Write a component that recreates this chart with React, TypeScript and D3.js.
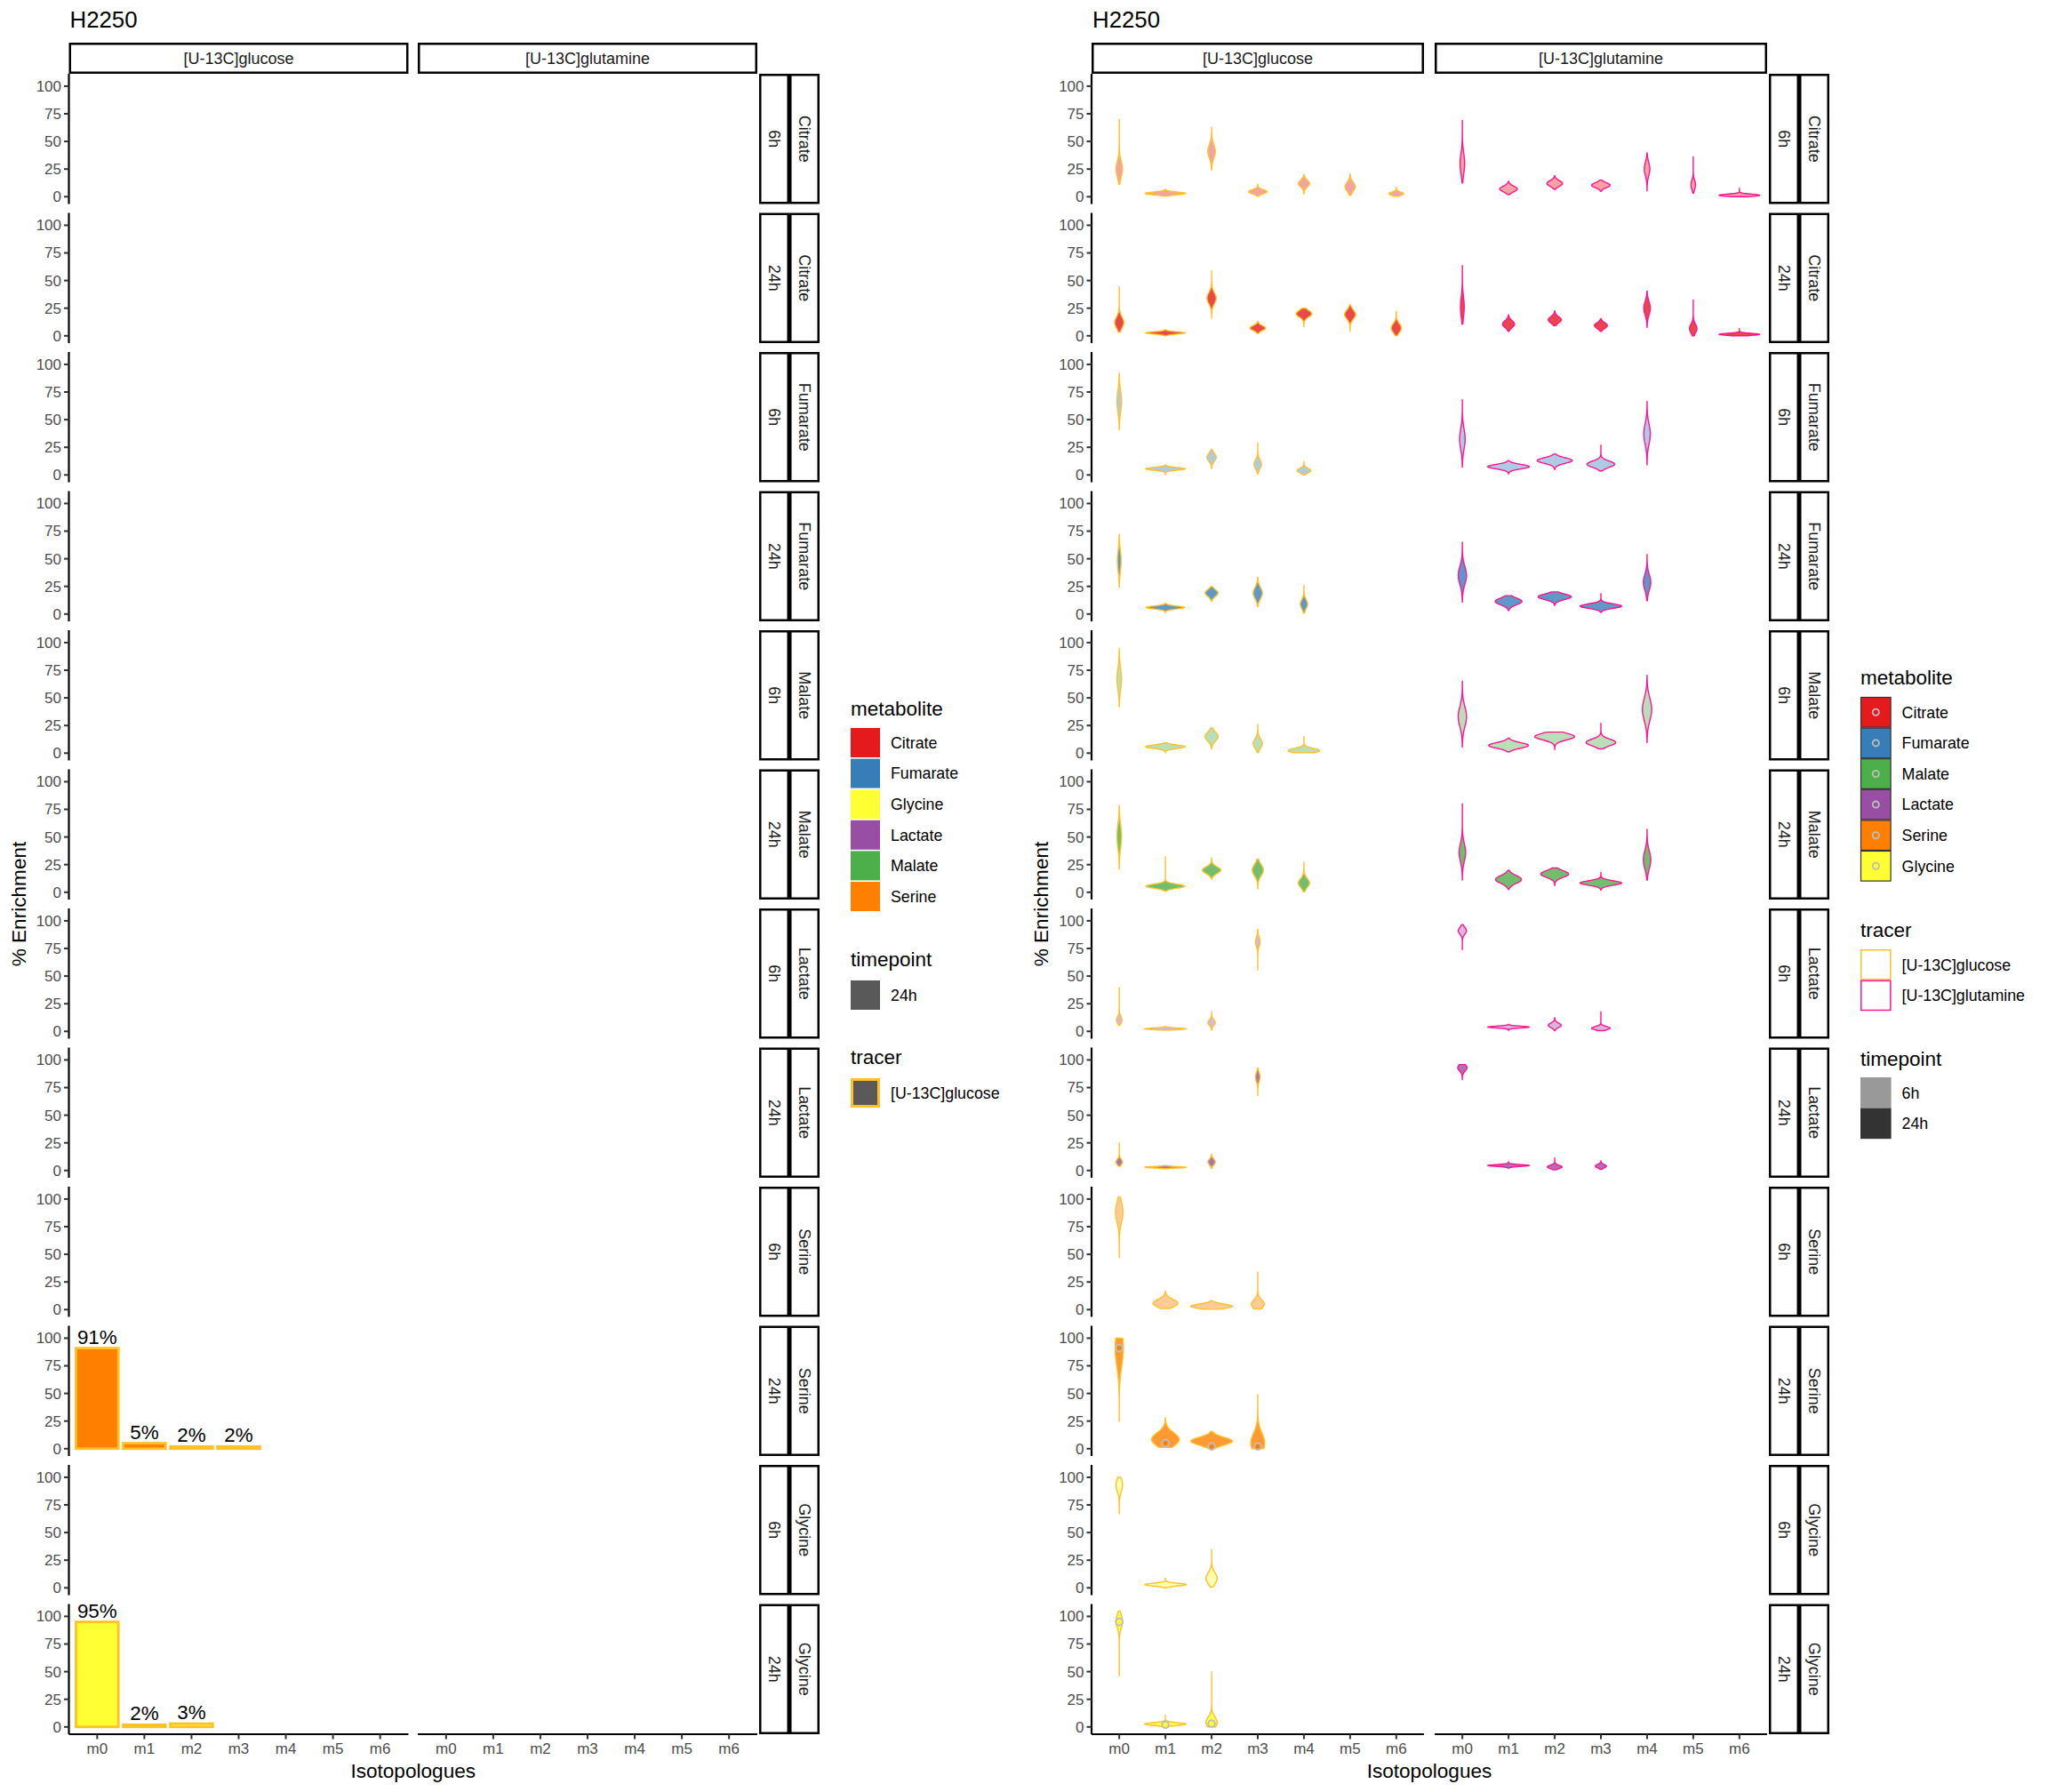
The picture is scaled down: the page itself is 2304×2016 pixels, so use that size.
import React from "react";
import * as d3 from "d3";

// [min, mode, max, half width as share of the category step, spread]
type Violin = [number, number, number, number, number];

const isotopologues = ["m0", "m1", "m2", "m3", "m4", "m5", "m6"];
const tracers = ["[U-13C]glucose", "[U-13C]glutamine"];
const metabolites = ["Citrate", "Fumarate", "Malate", "Lactate", "Serine", "Glycine"];
const timepoints = ["6h", "24h"];
const yTicks = [0, 25, 50, 75, 100];

// left chart: mean enrichment, 24h [U-13C]glucose
const serine24hGlc = [91, 5, 2, 2];
const glycine24hGlc = [95, 2, 3];

// right chart: violins per isotopologue (m0, m1, ...)
const citrate6hGlc: Violin[] = [
  [11.2, 25, 70, 0.07, 7], [0.8, 3, 6.7, 0.44, 1.2], [24, 41, 62.7, 0.08, 6],
  [0.3, 4.5, 11.5, 0.2, 1.8], [2.4, 12, 20, 0.12, 3], [1.3, 9, 20.5, 0.11, 4], [0.3, 2.7, 8.5, 0.16, 1.5],
];
const citrate6hGln: Violin[] = [
  [12.5, 30, 69, 0.05, 9], [2, 7, 14, 0.19, 2.5], [6.7, 12, 19, 0.17, 2.5],
  [4.8, 10.4, 15, 0.2, 2.2], [5.3, 25, 39.7, 0.06, 6], [3.2, 10.7, 36, 0.05, 4], [0, 1.3, 7.7, 0.44, 1],
];
const citrate24hGlc: Violin[] = [
  [3.2, 12, 44.2, 0.1, 5], [0, 2.6, 5.8, 0.43, 1], [15.9, 34, 58.7, 0.1, 5],
  [2, 7, 13.2, 0.17, 2.2], [8, 20, 25, 0.17, 3], [4, 19.3, 28, 0.12, 4], [0, 7, 22, 0.11, 4],
];
const citrate24hGln: Violin[] = [
  [10.6, 26, 63.5, 0.04, 9], [4, 10.6, 19, 0.13, 3], [9.3, 14.5, 22.5, 0.14, 2.8],
  [4, 9.3, 15.3, 0.14, 2.5], [7.7, 25, 40.5, 0.07, 6], [0, 6.6, 32.5, 0.08, 4], [0, 1.3, 6.6, 0.44, 0.9],
];
const fumarate6hGlc: Violin[] = [
  [40.6, 66.6, 92, 0.05, 9], [0, 5.5, 9, 0.43, 1.2], [5.8, 16, 22.7, 0.1, 3.5],
  [1, 9.7, 28.6, 0.08, 4], [0, 3.9, 12, 0.15, 2],
];
const fumarate6hGln: Violin[] = [
  [7, 32.5, 68, 0.06, 9], [1, 7.5, 13, 0.45, 2], [4.9, 13, 18.8, 0.38, 2.5],
  [3.6, 9.7, 27, 0.3, 2.8], [9, 37, 66.6, 0.07, 9],
];
const fumarate24hGlc: Violin[] = [
  [24.4, 48, 72, 0.04, 9], [1, 5.9, 9.8, 0.42, 1.3], [11.7, 19, 24.8, 0.14, 3],
  [6.8, 19, 33, 0.1, 5], [0.7, 9, 26, 0.08, 4],
];
const fumarate24hGln: Violin[] = [
  [10.7, 35, 65, 0.09, 8], [3.3, 11.4, 16.6, 0.29, 3], [7.8, 15.6, 20, 0.36, 2.5],
  [1.6, 7.2, 18.6, 0.45, 2], [12, 28.7, 54, 0.08, 7],
];
const malate6hGlc: Violin[] = [
  [42, 67, 94.8, 0.05, 9], [0.3, 5.8, 9.4, 0.43, 1.5], [3.9, 15, 22.7, 0.14, 4],
  [0.6, 8.8, 26, 0.1, 4], [0.3, 2.3, 15, 0.34, 2],
];
const malate6hGln: Violin[] = [
  [5.5, 33, 65, 0.09, 9], [1.3, 7, 13.6, 0.43, 2.5], [3.2, 15, 19, 0.43, 3],
  [3.9, 9.7, 27, 0.32, 3], [9.7, 39.6, 70.5, 0.1, 10],
];
const malate24hGlc: Violin[] = [
  [21, 50.5, 78.6, 0.05, 10], [1, 5.5, 32, 0.42, 1.8], [12, 20, 31, 0.2, 3],
  [3, 20, 30, 0.12, 5], [0.3, 8.4, 27, 0.12, 4],
];
const malate24hGln: Violin[] = [
  [11, 36, 80, 0.07, 8], [2.6, 11.6, 19.7, 0.28, 3.5], [6, 16.5, 22, 0.3, 3],
  [2, 8.4, 18, 0.45, 2], [11, 29.4, 57, 0.08, 8],
];
const lactate6hGlc: Violin[] = [
  [5.5, 10.3, 39.4, 0.06, 3], [1.3, 2.3, 4.5, 0.45, 0.7], [1.3, 8, 17.7, 0.08, 2.5], [55.5, 81, 92.6, 0.05, 4],
];
const lactate6hGln: Violin[] = [
  [74, 91, 96.5, 0.09, 3], [0.6, 3.9, 6.5, 0.45, 0.8], [0.6, 5.5, 12.6, 0.14, 2], [0.6, 2.9, 17.7, 0.2, 1.5],
];
const lactate24hGlc: Violin[] = [
  [3.9, 7.7, 24.8, 0.07, 2.5], [1.6, 2.9, 4.5, 0.45, 0.6], [2, 7.7, 14.5, 0.08, 2.5], [67.7, 84.5, 92.6, 0.05, 4],
];
const lactate24hGln: Violin[] = [
  [82, 93, 95.8, 0.1, 3], [2, 4.5, 8, 0.45, 0.8], [0.6, 3.2, 11.3, 0.16, 1.5], [1, 3.9, 8.7, 0.12, 1.5],
];
const serine6hViolins: Violin[] = [
  [47, 88, 101.6, 0.08, 9], [1, 5.8, 16.6, 0.27, 3.5], [0.3, 3, 8, 0.45, 2], [0.6, 4.9, 34, 0.14, 4],
];
const serine24hViolins: Violin[] = [
  [24.7, 91, 100, 0.09, 16], [1.3, 8.4, 28, 0.3, 6], [0.3, 6.8, 15.6, 0.45, 3.5], [0, 5.2, 49, 0.15, 9],
];
const glycine6hViolins: Violin[] = [
  [67, 93, 100, 0.07, 6], [0, 2.9, 8.7, 0.45, 1.2], [0.8, 8.7, 34.7, 0.12, 5],
];
const glycine24hViolins: Violin[] = [
  [46.4, 95.5, 104.8, 0.07, 6], [0, 2.6, 10.6, 0.45, 1.2], [0, 4, 50, 0.12, 5],
];

const violinRows: [Violin[], Violin[]][] = [
  [citrate6hGlc, citrate6hGln], [citrate24hGlc, citrate24hGln],
  [fumarate6hGlc, fumarate6hGln], [fumarate24hGlc, fumarate24hGln],
  [malate6hGlc, malate6hGln], [malate24hGlc, malate24hGln],
  [lactate6hGlc, lactate6hGln], [lactate24hGlc, lactate24hGln],
  [serine6hViolins, []], [serine24hViolins, []],
  [glycine6hViolins, []], [glycine24hViolins, []],
];
// bars / summary points, glucose panel only
const meanRows: (number[] | null)[] = [
  null, null, null, null, null, null, null, null, null, serine24hGlc, null, glycine24hGlc,
];

const metaboliteColor: Record<string, string> = {
  Citrate: "#E41A1C", Fumarate: "#377EB8", Glycine: "#FFFF33",
  Lactate: "#984EA3", Malate: "#4DAF4A", Serine: "#FF7F00",
};
const tracerColor = ["#FFC125", "#FF1493"];
const timeAlpha: Record<string, number> = { "6h": 0.4, "24h": 0.8 };

const FONT = "'Liberation Sans', Arial, Helvetica, sans-serif";
const ROW_TOP = 83;
const ROW_STEP = 156.5;
const ROW_H = 146.5;
const STRIP_Y = 48;
const STRIP_H = 35;
const BOTTOM = ROW_TOP + 11 * ROW_STEP + ROW_H;
const MID = (ROW_TOP + BOTTOM) / 2;

const rows = metabolites.flatMap((m) => timepoints.map((t) => ({ m, t })));
const y = d3.scaleLinear().domain([-6.6, 111.2]).range([ROW_H, 0]);

type Row = { m: string; t: string };
type XScale = d3.ScalePoint<string>;

function Facets({
  lefts, pw, yTitleX, marks,
}: {
  lefts: number[];
  pw: number;
  yTitleX: number;
  marks: (r: Row, i: number, x: XScale) => React.ReactNode;
}) {
  const x = d3.scalePoint<string>().domain(isotopologues).range([0, pw]).padding(0.6);
  const pr = lefts[1] + pw;
  return (
    <g fontFamily={FONT}>
      <text x={lefts[0] + 1} y={31} fontSize={25.8} fill="#000">H2250</text>
      {tracers.map((t, j) => (
        <g key={t}>
          <rect x={lefts[j] + 1.25} y={STRIP_Y + 1.25} width={pw - 2.5} height={STRIP_H - 2.5}
            fill="#fff" stroke="#000" strokeWidth={2.5} />
          <text x={lefts[j] + pw / 2} y={STRIP_Y + STRIP_H / 2} dy="0.35em" textAnchor="middle"
            fontSize={18} fill="#1a1a1a">{t}</text>
        </g>
      ))}
      {rows.map((r, i) => (
        <g key={i} transform={`translate(0,${ROW_TOP + i * ROW_STEP})`}>
          {[r.t, r.m].map((lab, k) => {
            const sx = pr + 2 + k * 34;
            return (
              <g key={k}>
                <rect x={sx + 1.25} y={1.25} width={34 - 2.5} height={ROW_H - 2.5}
                  fill="#fff" stroke="#000" strokeWidth={2.5} />
                <text transform={`translate(${sx + 17},${ROW_H / 2}) rotate(90)`} dy="0.35em"
                  textAnchor="middle" fontSize={18} fill="#1a1a1a">{lab}</text>
              </g>
            );
          })}
          {marks(r, i, x)}
          <line x1={lefts[0]} x2={lefts[0]} y1={0} y2={ROW_H} stroke="#000" strokeWidth={2.2} />
          {yTicks.map((v) => (
            <g key={v}>
              <line x1={lefts[0] - 5.5} x2={lefts[0]} y1={y(v)} y2={y(v)} stroke="#333" strokeWidth={2} />
              <text x={lefts[0] - 8.5} y={y(v)} dy="0.35em" textAnchor="end" fontSize={17}
                fill="#4d4d4d">{v}</text>
            </g>
          ))}
        </g>
      ))}
      {lefts.map((l, j) => (
        <g key={j} transform={`translate(${l},${BOTTOM})`}>
          <line x1={0} x2={pw} y1={0} y2={0} stroke="#000" strokeWidth={2.2} />
          {isotopologues.map((iso) => (
            <g key={iso} transform={`translate(${x(iso)},0)`}>
              <line y1={0} y2={5.5} stroke="#333" strokeWidth={2} />
              <text y={22} textAnchor="middle" fontSize={17} fill="#4d4d4d">{iso}</text>
            </g>
          ))}
        </g>
      ))}
      <text x={(lefts[0] + pr) / 2} y={BOTTOM + 49} textAnchor="middle" fontSize={22.6}>Isotopologues</text>
      <text transform={`translate(${yTitleX},${MID}) rotate(-90)`} dy="0.35em" textAnchor="middle"
        fontSize={22.6}>% Enrichment</text>
    </g>
  );
}

function violinPath(v: Violin, cx: number, step: number) {
  const [lo, mode, hi, hw, sd] = v;
  const vals = d3.range(0, 81).map((k) => lo + ((hi - lo) * k) / 80);
  const half = (d: number) => hw * step * Math.exp(-0.5 * ((d - mode) / sd) ** 2);
  return d3.area<number>()
    .y((d) => y(d))
    .x0((d) => cx - half(d))
    .x1((d) => cx + half(d))
    .curve(d3.curveCatmullRom)(vals) ?? "";
}

const LEFT_LEFTS = [77.5, 470];
const LEFT_PW = 382;
const RIGHT_LEFTS = [1228, 1614];
const RIGHT_PW = 374;

function LeftLegend() {
  const lx = 957;
  const order = metabolites.slice().sort();
  return (
    <g fontFamily={FONT}>
      <text x={lx} y={805} fontSize={22.5}>metabolite</text>
      {order.map((m, k) => (
        <g key={m} transform={`translate(${lx},${819 + k * 34.6})`}>
          <rect width={33} height={33} fill={metaboliteColor[m]} />
          <text x={45} y={16.5} dy="0.35em" fontSize={17.8}>{m}</text>
        </g>
      ))}
      <text x={lx} y={1087} fontSize={22.5}>timepoint</text>
      <g transform={`translate(${lx},1103)`}>
        <rect width={33} height={33} fill="#595959" />
        <text x={45} y={16.5} dy="0.35em" fontSize={17.8}>{timepoints[1]}</text>
      </g>
      <text x={lx} y={1197} fontSize={22.5}>tracer</text>
      <g transform={`translate(${lx},1213)`}>
        <rect x={1.5} y={1.5} width={30} height={30} fill="#595959" stroke={tracerColor[0]} strokeWidth={3} />
        <text x={45} y={16.5} dy="0.35em" fontSize={17.8}>{tracers[0]}</text>
      </g>
    </g>
  );
}

function RightLegend() {
  const lx = 2093;
  const key = 34.6;
  return (
    <g fontFamily={FONT}>
      <text x={lx} y={770} fontSize={22.5}>metabolite</text>
      {metabolites.map((m, k) => (
        <g key={m} transform={`translate(${lx},${784 + k * key})`}>
          <rect x={0.5} y={0.5} width={key - 1} height={key - 1} fill={metaboliteColor[m]} stroke="#333" strokeWidth={1.2} />
          <circle cx={key / 2} cy={key / 2} r={3.6} fill={metaboliteColor[m]} stroke="#bebebe" strokeWidth={1.8} />
          <text x={key + 12} y={key / 2} dy="0.35em" fontSize={17.8}>{m}</text>
        </g>
      ))}
      <text x={lx} y={1054} fontSize={22.5}>tracer</text>
      {tracers.map((t, k) => (
        <g key={t} transform={`translate(${lx},${1068 + k * key})`}>
          <rect x={0.75} y={0.75} width={key - 1.5} height={key - 1.5} fill="#fff" stroke={tracerColor[k]} strokeWidth={1.5} />
          <text x={key + 12} y={key / 2} dy="0.35em" fontSize={17.8}>{t}</text>
        </g>
      ))}
      <text x={lx} y={1199} fontSize={22.5}>timepoint</text>
      {timepoints.map((t, k) => (
        <g key={t} transform={`translate(${lx},${1212 + k * key})`}>
          <rect width={key} height={key} fill={k === 0 ? "#999999" : "#333333"} />
          <text x={key + 12} y={key / 2} dy="0.35em" fontSize={17.8}>{t}</text>
        </g>
      ))}
    </g>
  );
}

export default function App() {
  const barMarks = (r: Row, i: number, x: XScale) => {
    const vals = meanRows[i];
    if (!vals) return null;
    const bw = x.step() * 0.9;
    return vals.map((v, k) => {
      const cx = LEFT_LEFTS[0] + (x(isotopologues[k]) ?? 0);
      return (
        <g key={k}>
          <rect x={cx - bw / 2} y={y(v)} width={bw} height={y(0) - y(v)}
            fill={metaboliteColor[r.m]} stroke={tracerColor[0]} strokeWidth={2.8} />
          <text x={cx} y={y(v) - 5} textAnchor="middle" fontSize={22.4} fontFamily={FONT}>
            {Math.round(v)}%
          </text>
        </g>
      );
    });
  };

  const violinMarks = (r: Row, i: number, x: XScale) => (
    <g>
      {violinRows[i].map((vs, j) =>
        vs.map((v, k) => (
          <path key={`${j}-${k}`}
            d={violinPath(v, RIGHT_LEFTS[j] + (x(isotopologues[k]) ?? 0), x.step())}
            fill={metaboliteColor[r.m]} fillOpacity={timeAlpha[r.t]}
            stroke={tracerColor[j]} strokeWidth={1.4} strokeLinejoin="round" />
        ))
      )}
      {(meanRows[i] ?? []).map((v, k) => (
        <circle key={k} cx={RIGHT_LEFTS[0] + (x(isotopologues[k]) ?? 0)} cy={y(v)} r={3.8}
          fill={metaboliteColor[r.m]} stroke="#bebebe" strokeWidth={2} />
      ))}
    </g>
  );

  return (
    <svg width={2304} height={2016} viewBox="0 0 2304 2016"
      style={{ position: "absolute", left: 0, top: 0, background: "#fff" }}>
      <rect width={2304} height={2016} fill="#fff" />
      <Facets lefts={LEFT_LEFTS} pw={LEFT_PW} yTitleX={21} marks={barMarks} />
      <LeftLegend />
      <Facets lefts={RIGHT_LEFTS} pw={RIGHT_PW} yTitleX={1171} marks={violinMarks} />
      <RightLegend />
    </svg>
  );
}
